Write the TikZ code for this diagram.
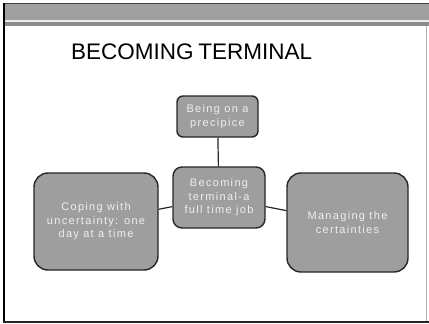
\documentclass[tikz,border=0pt]{standalone}
\usepackage{fontspec}
\setmainfont{Liberation Sans}
\newfontfamily\boxfont[LetterSpace=12]{Liberation Sans}
\definecolor{boxgray}{HTML}{9E9E9E}
\definecolor{bandgray}{HTML}{A0A0A0}
\definecolor{txtwhite}{HTML}{EEEEF4}
\begin{document}
\begin{tikzpicture}[x=1pt,y=-1pt,
  card/.style={draw=black!85, line width=1.4pt, fill=boxgray, rounded corners=#1,
    text=txtwhite, align=center, inner sep=0pt,
    font=\boxfont\fontsize{11}{13.5}\selectfont},
  link/.style={line width=1.2pt, draw=black!85}]
\useasboundingbox (0,0) rectangle (429,324);
% slide frame
\fill[bandgray] (4,3) rectangle (429,20);
\draw[black!75, line width=1.2pt] (3,3.5) -- (429,3.5);
\fill[black!8] (4,20) rectangle (429,22);
\fill[black!45] (4,22) rectangle (429,26);
\draw[black!30, line width=0.8pt] (426,26) -- (426,322);
\draw[black, line width=1.6pt] (3.8,3) -- (3.8,322.5);
\draw[black!85, line width=1.8pt] (3,322) -- (429,322);
% title
\node[anchor=base west, inner sep=0pt, font=\fontsize{22.5}{27}\selectfont] (title) at (71,59.5) {BECOMING\hspace{-1.5pt} TERMINAL};
% nodes
\node[card=6pt, minimum width=81pt, minimum height=41pt] (top) at (217.5,116.5) {Being on a\\precipice};
\node[card=9pt, minimum width=92pt, minimum height=61pt] (ctr) at (219,197.5) {Becoming\\terminal-a\\full time job};
\node[card=14pt, minimum width=124pt, minimum height=97pt] (lft) at (96,221.5) {Coping with\\uncertainty: one\\day at a time};
\node[card=14pt, minimum width=121pt, minimum height=99pt] (rgt) at (347.5,222.5) {Managing the\\certainties};
% links
\draw[link] (top) -- (ctr);
\draw[link] (ctr) -- (lft);
\draw[link] (ctr) -- (rgt);
\end{tikzpicture}
\end{document}
